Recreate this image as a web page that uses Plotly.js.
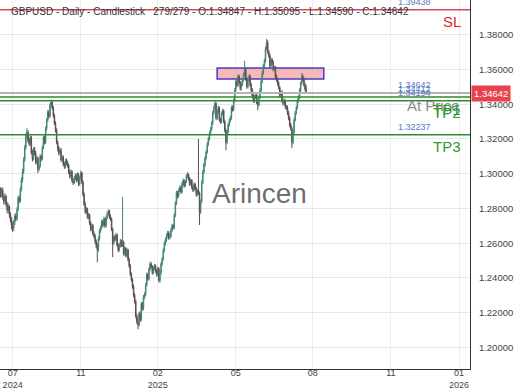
<!DOCTYPE html>
<html><head><meta charset="utf-8">
<script src="https://cdn.plot.ly/plotly-3.0.1.min.js"></script>
<style>html,body{margin:0;padding:0;background:#fff}#chart{width:520px;height:390px}</style>
</head><body><div id="chart"></div>
<script>
const headerText = "GBPUSD - Daily - Candlestick   279/279 - O:1.34847 - H:1.35095 - L:1.34590 - C:1.34642";
const openP = [
1.2895,1.2880,1.2905,1.2862,1.2840,1.2871,1.2825,1.2790,1.2812,1.2765,1.2738,
1.2702,1.2685,1.2721,1.2758,1.2740,1.2795,1.2860,1.2842,1.2910,1.2965,
1.3010,1.3080,1.3150,1.3215,1.3238,1.3190,1.3172,1.3205,1.3120,1.3085,
1.3140,1.3118,1.3065,1.3090,1.3025,1.3042,1.3100,1.3085,1.3150,1.3205,
1.3180,1.3260,1.3310,1.3355,1.3330,1.3395,1.3412,1.3380,1.3335,1.3290,
1.3250,1.3180,1.3145,1.3120,1.3135,1.3080,1.3095,1.3055,1.3040,1.3072,
1.3060,1.3048,1.3010,1.2985,1.3012,1.2960,1.2948,1.2975,1.2990,1.2962,
1.2995,1.2940,1.2972,1.3005,1.2950,1.2880,1.2825,1.2780,1.2795,1.2750,
1.2762,1.2715,1.2680,1.2702,1.2655,1.2640,1.2610,1.2585,1.2560,1.2625,
1.2670,1.2690,1.2725,1.2705,1.2740,1.2700,1.2745,1.2770,1.2785,1.2752,
1.2740,1.2680,1.2600,1.2635,1.2620,1.2648,1.2590,1.2560,1.2585,1.2612,
1.2590,1.2605,1.2540,1.2570,1.2528,1.2560,1.2505,1.2470,1.2420,1.2390,
1.2350,1.2300,1.2265,1.2180,1.2150,1.2130,1.2195,1.2160,1.2250,1.2225,
1.2290,1.2305,1.2360,1.2420,1.2395,1.2450,1.2480,1.2465,1.2430,1.2455,
1.2470,1.2440,1.2420,1.2455,1.2385,1.2430,1.2480,1.2510,1.2560,1.2600,
1.2620,1.2645,1.2660,1.2630,1.2642,1.2675,1.2700,1.2690,1.2760,1.2830,
1.2890,1.2870,1.2905,1.2920,1.2895,1.2940,1.2960,1.2930,1.2952,1.2985,
1.2995,1.2970,1.2940,1.2962,1.2920,1.2905,1.2940,1.2915,1.2880,1.2900,
1.2890,1.2780,1.2840,1.2950,1.3010,1.3050,1.3090,1.3125,1.3170,1.3200,
1.3230,1.3255,1.3290,1.3350,1.3380,1.3405,1.3320,1.3355,1.3380,1.3310,
1.3300,1.3345,1.3362,1.3300,1.3250,1.3180,1.3240,1.3280,1.3305,1.3320,
1.3380,1.3370,1.3420,1.3480,1.3530,1.3510,1.3560,1.3525,1.3490,1.3515,
1.3540,1.3570,1.3600,1.3545,1.3500,1.3540,1.3560,1.3510,1.3480,1.3445,
1.3420,1.3440,1.3455,1.3410,1.3395,1.3440,1.3480,1.3530,1.3580,1.3620,
1.3650,1.3720,1.3755,1.3700,1.3680,1.3620,1.3655,1.3640,1.3600,1.3610,
1.3560,1.3540,1.3520,1.3495,1.3450,1.3470,1.3420,1.3405,1.3420,1.3385,
1.3380,1.3350,1.3320,1.3280,1.3260,1.3180,1.3240,1.3310,1.3350,1.3380,
1.3420,1.3440,1.3480,1.3520,1.3560,1.3540,1.3510,1.34847];
const highP = [
1.2922,1.2918,1.2921,1.2880,1.2889,1.2878,1.2838,1.2830,1.2818,1.2779,1.2750,
1.2722,1.2735,1.2770,1.2775,1.2808,1.2872,1.2875,1.2925,1.2980,1.3028,
1.3095,1.3165,1.3232,1.3262,1.3250,1.3210,1.3220,1.3218,1.3138,1.3152,
1.3155,1.3130,1.3102,1.3098,1.3055,1.3112,1.3110,1.3162,1.3218,1.3220,
1.3272,1.3322,1.3368,1.3365,1.3408,1.3428,1.3420,1.3390,1.3345,1.3302,
1.3262,1.3192,1.3160,1.3150,1.3148,1.3108,1.3105,1.3068,1.3085,1.3088,
1.3075,1.3058,1.3022,1.3025,1.3020,1.2972,1.2988,1.3002,1.3000,1.3008,
1.3005,1.2985,1.3018,1.3012,1.2962,1.2892,1.2838,1.2808,1.2805,1.2775,
1.2770,1.2728,1.2715,1.2710,1.2668,1.2652,1.2622,1.2598,1.2638,1.2682,
1.2702,1.2738,1.2732,1.2752,1.2748,1.2758,1.2782,1.2795,1.2792,1.2765,
1.2748,1.2690,1.2645,1.2648,1.2660,1.2655,1.2602,1.2598,1.2625,1.2620,
1.2866,1.2615,1.2582,1.2578,1.2572,1.2568,1.2515,1.2480,1.2432,1.2400,
1.2362,1.2312,1.2275,1.2192,1.2165,1.2205,1.2208,1.2262,1.2262,1.2302,
1.2318,1.2372,1.2432,1.2428,1.2462,1.2495,1.2490,1.2475,1.2468,1.2482,
1.2478,1.2450,1.2465,1.2462,1.2442,1.2492,1.2522,1.2572,1.2612,1.2632,
1.2658,1.2672,1.2670,1.2655,1.2688,1.2712,1.2710,1.2772,1.2842,1.2902,
1.2900,1.2915,1.2932,1.2930,1.2952,1.2972,1.2968,1.2962,1.2998,1.3010,
1.3002,1.2982,1.2972,1.2970,1.2932,1.2950,1.2948,1.2925,1.2912,1.3200,
1.2898,1.2852,1.2962,1.3022,1.3062,1.3102,1.3138,1.3182,1.3212,1.3242,
1.3268,1.3302,1.3362,1.3392,1.3420,1.3412,1.3368,1.3392,1.3388,1.3322,
1.3358,1.3375,1.3370,1.3312,1.3260,1.3252,1.3292,1.3318,1.3332,1.3392,
1.3392,1.3432,1.3492,1.3542,1.3545,1.3572,1.3570,1.3535,1.3528,1.3552,
1.3582,1.3650,1.3612,1.3558,1.3552,1.3572,1.3570,1.3522,1.3492,1.3458,
1.3452,1.3468,1.3462,1.3422,1.3452,1.3492,1.3542,1.3592,1.3632,1.3662,
1.3732,1.3777,1.3768,1.3712,1.3692,1.3668,1.3665,1.3652,1.3622,1.3620,
1.3572,1.3552,1.3532,1.3505,1.3482,1.3480,1.3432,1.3432,1.3428,1.3395,
1.3392,1.3362,1.3332,1.3292,1.3272,1.3252,1.3322,1.3362,1.3392,1.3432,
1.3452,1.3492,1.3532,1.3580,1.3572,1.3552,1.3522,1.35095];
const lowP = [
1.2862,1.2866,1.2850,1.2821,1.2828,1.2810,1.2772,1.2775,1.2748,1.2720,1.2680,
1.2665,1.2670,1.2705,1.2728,1.2730,1.2785,1.2830,1.2835,1.2898,1.2950,
1.3000,1.3068,1.3140,1.3200,1.3178,1.3160,1.3160,1.3110,1.3070,1.3078,
1.3105,1.3055,1.3052,1.3003,1.3015,1.3035,1.3070,1.3078,1.3140,1.3168,
1.3172,1.3248,1.3298,1.3318,1.3322,1.3382,1.3368,1.3322,1.3280,1.3238,
1.3170,1.3130,1.3105,1.3110,1.3068,1.3072,1.3045,1.3028,1.3030,1.3048,
1.3035,1.2998,1.2972,1.2975,1.2950,1.2935,1.2940,1.2962,1.2950,1.2955,
1.2928,1.2932,1.2962,1.2940,1.2870,1.2815,1.2768,1.2770,1.2740,1.2738,
1.2705,1.2668,1.2670,1.2645,1.2628,1.2598,1.2572,1.2490,1.2550,1.2615,
1.2660,1.2680,1.2692,1.2698,1.2688,1.2690,1.2735,1.2760,1.2740,1.2728,
1.2670,1.2520,1.2590,1.2610,1.2612,1.2580,1.2548,1.2552,1.2575,1.2578,
1.2580,1.2528,1.2530,1.2518,1.2520,1.2495,1.2458,1.2410,1.2378,1.2338,
1.2288,1.2252,1.2168,1.2135,1.2104,1.2120,1.2148,1.2150,1.2212,1.2215,
1.2278,1.2295,1.2350,1.2385,1.2385,1.2440,1.2455,1.2420,1.2420,1.2445,
1.2430,1.2408,1.2410,1.2375,1.2372,1.2420,1.2470,1.2500,1.2548,1.2588,
1.2608,1.2632,1.2620,1.2622,1.2632,1.2665,1.2680,1.2680,1.2750,1.2820,
1.2858,1.2862,1.2895,1.2885,1.2885,1.2930,1.2920,1.2922,1.2945,1.2975,
1.2960,1.2930,1.2930,1.2910,1.2895,1.2898,1.2905,1.2868,1.2870,1.2878,
1.2705,1.2768,1.2830,1.2940,1.3000,1.3040,1.3078,1.3115,1.3158,1.3190,
1.3220,1.3245,1.3280,1.3338,1.3370,1.3310,1.3308,1.3345,1.3300,1.3288,
1.3290,1.3335,1.3290,1.3238,1.3135,1.3170,1.3230,1.3270,1.3295,1.3310,
1.3358,1.3360,1.3410,1.3470,1.3498,1.3500,1.3515,1.3478,1.3480,1.3505,
1.3530,1.3560,1.3535,1.3490,1.3490,1.3530,1.3500,1.3470,1.3435,1.3410,
1.3408,1.3430,1.3400,1.3365,1.3385,1.3430,1.3470,1.3520,1.3570,1.3610,
1.3640,1.3710,1.3690,1.3668,1.3608,1.3610,1.3628,1.3590,1.3590,1.3548,
1.3530,1.3508,1.3485,1.3438,1.3440,1.3410,1.3392,1.3395,1.3372,1.3368,
1.3338,1.3308,1.3268,1.3248,1.3147,1.3170,1.3230,1.3300,1.3340,1.3370,
1.3410,1.3430,1.3470,1.3510,1.3530,1.3500,1.3475,1.34590];
const closeP = [
1.2880,1.2905,1.2862,1.2840,1.2871,1.2825,1.2790,1.2812,1.2765,1.2738,1.2702,
1.2685,1.2721,1.2758,1.2740,1.2795,1.2860,1.2842,1.2910,1.2965,1.3010,
1.3080,1.3150,1.3215,1.3238,1.3190,1.3172,1.3205,1.3120,1.3085,1.3140,
1.3118,1.3065,1.3090,1.3025,1.3042,1.3100,1.3085,1.3150,1.3205,1.3180,
1.3260,1.3310,1.3355,1.3330,1.3395,1.3412,1.3380,1.3335,1.3290,1.3250,
1.3180,1.3145,1.3120,1.3135,1.3080,1.3095,1.3055,1.3040,1.3072,1.3060,
1.3048,1.3010,1.2985,1.3012,1.2960,1.2948,1.2975,1.2990,1.2962,1.2995,
1.2940,1.2972,1.3005,1.2950,1.2880,1.2825,1.2780,1.2795,1.2750,1.2762,
1.2715,1.2680,1.2702,1.2655,1.2640,1.2610,1.2585,1.2560,1.2625,1.2670,
1.2690,1.2725,1.2705,1.2740,1.2700,1.2745,1.2770,1.2785,1.2752,1.2740,
1.2680,1.2600,1.2635,1.2620,1.2648,1.2590,1.2560,1.2585,1.2612,1.2590,
1.2605,1.2540,1.2570,1.2528,1.2560,1.2505,1.2470,1.2420,1.2390,1.2350,
1.2300,1.2265,1.2180,1.2150,1.2130,1.2195,1.2160,1.2250,1.2225,1.2290,
1.2305,1.2360,1.2420,1.2395,1.2450,1.2480,1.2465,1.2430,1.2455,1.2470,
1.2440,1.2420,1.2455,1.2385,1.2430,1.2480,1.2510,1.2560,1.2600,1.2620,
1.2645,1.2660,1.2630,1.2642,1.2675,1.2700,1.2690,1.2760,1.2830,1.2890,
1.2870,1.2905,1.2920,1.2895,1.2940,1.2960,1.2930,1.2952,1.2985,1.2995,
1.2970,1.2940,1.2962,1.2920,1.2905,1.2940,1.2915,1.2880,1.2900,1.2890,
1.2780,1.2840,1.2950,1.3010,1.3050,1.3090,1.3125,1.3170,1.3200,1.3230,
1.3255,1.3290,1.3350,1.3380,1.3405,1.3320,1.3355,1.3380,1.3310,1.3300,
1.3345,1.3362,1.3300,1.3250,1.3180,1.3240,1.3280,1.3305,1.3320,1.3380,
1.3370,1.3420,1.3480,1.3530,1.3510,1.3560,1.3525,1.3490,1.3515,1.3540,
1.3570,1.3600,1.3545,1.3500,1.3540,1.3560,1.3510,1.3480,1.3445,1.3420,
1.3440,1.3455,1.3410,1.3395,1.3440,1.3480,1.3530,1.3580,1.3620,1.3650,
1.3720,1.3755,1.3700,1.3680,1.3620,1.3655,1.3640,1.3600,1.3610,1.3560,
1.3540,1.3520,1.3495,1.3450,1.3470,1.3420,1.3405,1.3420,1.3385,1.3380,
1.3350,1.3320,1.3280,1.3260,1.3180,1.3240,1.3310,1.3350,1.3380,1.3420,
1.3440,1.3480,1.3520,1.3560,1.3540,1.3510,1.3485,1.34642];

const tickIdx = [11, 73, 143, 214, 284, 355, 417];
const tickText = ["07<br>2024", "11", "02<br>2025", "05", "08", "11", "01<br>2026"];

const levelSL = 1.39438;
const levelPrice = 1.34642;
const levelTP1 = 1.34412;
const levelTP2 = 1.34194;
const levelTP3 = 1.32237;
const zoneLow = 1.3545, zoneHigh = 1.3609;
const zoneStartIdx = 197, zoneEndIdx = 294;
const watermark = "Arincen";

const xIdx = closeP.map((_, i) => i);

const trace = {
  type: 'candlestick', x: xIdx, open: openP, high: highP, low: lowP, close: closeP,
  increasing: {line: {color: '#40857a', width: 1}, fillcolor: '#78b5a9'},
  decreasing: {line: {color: '#5c4a50', width: 1}, fillcolor: '#d9808f'},
  whiskerwidth: 0, hoverinfo: 'skip', showlegend: false
};

const F = 'Liberation Sans, Arial, sans-serif';
const hline = (y, color, w) => ({type: 'line', xref: 'paper', x0: 0, x1: 1, yref: 'y', y0: y, y1: y, line: {color: color, width: w}, layer: 'above'});
const blueLbl = (y, t) => ({xref: 'paper', x: 396/470, xanchor: 'left', yref: 'y', y: y, yanchor: 'middle', yshift: 8, text: t, showarrow: false, font: {family: F, size: 9, color: '#5a78c8'}});
const bigLbl = (y, t, c, xr) => ({xref: 'paper', x: xr, xanchor: 'right', yref: 'y', y: y, yanchor: 'middle', yshift: -12, text: t, showarrow: false, font: {family: F, size: 15, color: c}});

const layout = {
  width: 520, height: 390,
  margin: {l: 0, r: 50, t: 0, b: 21, pad: 0},
  paper_bgcolor: '#ffffff', plot_bgcolor: '#ffffff',
  font: {family: F, size: 9, color: '#444'},
  showlegend: false,
  xaxis: {
    type: 'linear', range: [-0.5, 427], rangeslider: {visible: false},
    tickmode: 'array', tickvals: tickIdx, ticktext: tickText,
    showgrid: true, gridcolor: '#eeeeee', gridwidth: 1, zeroline: false,
    showline: true, linecolor: '#333', linewidth: 1, ticks: '', ticklabelstandoff: -5,
    tickfont: {family: F, size: 9, color: '#444'}, automargin: false, fixedrange: true
  },
  yaxis: {
    side: 'right', range: [1.1876, 1.4000], tick0: 1.2, dtick: 0.02, tickformat: '.5f',
    showgrid: true, gridcolor: '#e8e8e8', gridwidth: 1, zeroline: false,
    showline: true, linecolor: '#333', linewidth: 1, ticks: 'outside', ticklen: 6, tickcolor: 'rgba(0,0,0,0)',
    tickfont: {family: F, size: 9.5, color: '#444'}, automargin: false, fixedrange: true
  },
  shapes: [
    {type: 'rect', xref: 'x', x0: zoneStartIdx, x1: zoneEndIdx, yref: 'y', y0: zoneLow, y1: zoneHigh,
     fillcolor: 'rgba(244,160,160,0.75)', line: {color: '#4a3cc4', width: 1.5}, layer: 'between'},
    hline(levelSL, '#d24a56', 1.5),
    hline(levelPrice, '#b4b4b4', 2),
    hline(levelTP1, '#2e8b2e', 1.5),
    hline(levelTP2, '#2e8b2e', 1.5),
    hline(levelTP3, '#2e8b2e', 1.5)
  ],
  annotations: [
    {xref: 'paper', x: 9/470, xanchor: 'left', yref: 'paper', y: 1, yanchor: 'top', yshift: -4, text: headerText, showarrow: false, font: {family: F, size: 10, color: '#333'}},
    blueLbl(levelSL, '1.39438'),
    blueLbl(levelPrice, '1.34642'),
    blueLbl(levelTP1, '1.34412'),
    blueLbl(levelTP2, '1.34194'),
    blueLbl(levelTP3, '1.32237'),
    bigLbl(levelSL, 'SL', '#e0282e', 463/470),
    bigLbl(levelPrice, 'At Price', '#8a8a8a', 462/470),
    bigLbl(levelTP1, 'TP1', '#2e9a2e', 463/470),
    bigLbl(levelTP2, 'TP2', '#2e9a2e', 463/470),
    bigLbl(levelTP3, 'TP3', '#2e9a2e', 463/470),
    {xref: 'paper', x: 259/470, xanchor: 'center', yref: 'y', y: 1.2889, yanchor: 'middle', text: watermark, showarrow: false, font: {family: F, size: 28, color: 'rgba(90,90,90,0.9)'}},
    {xref: 'paper', x: 1, xanchor: 'left', xshift: 1, yref: 'y', y: levelPrice, yanchor: 'middle', text: '1.34642', showarrow: false, bgcolor: '#e8424c', borderpad: 2, font: {family: F, size: 9.5, color: '#ffffff'}}
  ]
};

Plotly.newPlot('chart', [trace], layout, {staticPlot: true, displayModeBar: false});
</script>
</body></html>
